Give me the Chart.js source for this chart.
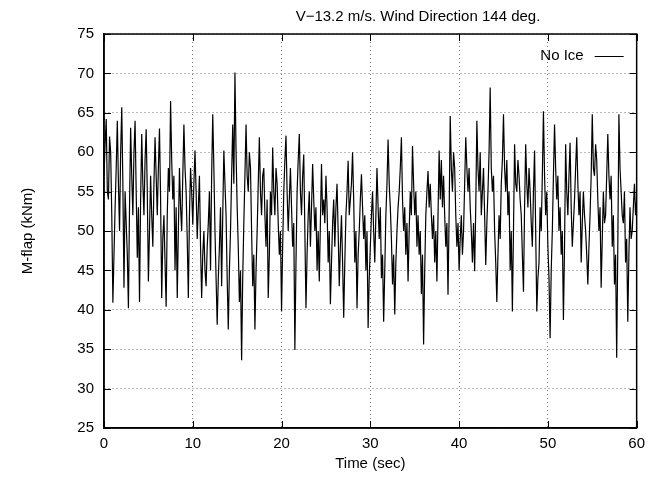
<!DOCTYPE html>
<html>
<head>
<meta charset="utf-8">
<script src="https://cdn.jsdelivr.net/npm/chart.js@4/dist/chart.umd.min.js"></script>
<style>
  html, body { margin: 0; padding: 0; background: #fff; }
</style>
</head>
<body>
<canvas id="chartFlap" width="652" height="477"></canvas>
<script>
const chartTitle = "V\u221213.2 m/s. Wind Direction 144 deg.";
const seriesLabel = "No Ice";
const xTitle = "Time (sec)";
const yTitle = "M-flap (kNm)";
const xTicks = [0, 10, 20, 30, 40, 50, 60];
const yTicks = [25, 30, 35, 40, 45, 50, 55, 60, 65, 70, 75];

// one sample every 0.125 s (one row = one second)
const sampleStep = 0.125;
const mFlap = [
    57, 61, 64.2, 55, 54, 62, 60, 52,
    40.9, 47, 53, 58, 64, 56, 50, 60,
    65.7, 56, 42.8, 55, 51, 47, 40.2, 53,
    63.1, 57, 52, 60, 64, 55, 46.6, 53,
    41, 54, 62.3, 56, 52, 59, 62.9, 55,
    43.6, 50, 57, 52, 48, 56, 61.9, 57,
    52, 58, 63, 54, 41.5, 49, 52, 46,
    40.4, 52, 58, 55, 66.5, 59, 54, 57,
    45, 53, 41.5, 50, 58, 53, 50, 57,
    63.5, 58, 55, 49, 41.5, 52, 58, 55,
    50.8, 56, 60.2, 55, 49, 53, 57, 48,
    41.5, 47, 50, 45, 43, 48, 51, 55,
    45, 57, 64.8, 58, 50, 44, 38.1, 44,
    48, 53, 43, 52, 60.2, 56, 52, 44,
    37.5, 45, 50, 57, 63.5, 56, 70.1, 60,
    53, 48, 41, 45, 33.6, 44, 51, 57,
    63.5, 57, 55, 60, 58, 50, 43, 47,
    37.5, 45, 50, 56, 61.9, 55, 52, 57,
    58, 52, 48, 54, 41.5, 47, 55, 52,
    60.6, 55, 52, 58, 56, 51, 47, 50,
    39.8, 48, 55, 59, 62.1, 55, 50, 54,
    58, 53, 48, 51, 34.9, 46, 55, 59,
    62.3, 55, 52, 57, 59.7, 50, 40.2, 47,
    52, 55, 48, 53, 58.5, 54, 50, 53,
    45, 50, 43.6, 51, 58.5, 52, 54, 51,
    57, 53, 46, 50, 40.7, 46, 51, 54,
    48, 53, 56, 50, 43, 48, 52, 46,
    39, 46, 52, 55, 58.9, 52, 54, 56,
    60, 54, 46, 50, 40.2, 47, 50, 54,
    57.2, 53, 49, 52, 45, 50, 37.7, 44,
    48, 52, 55, 50, 46, 52, 58, 53,
    49, 53, 44, 47, 38.5, 45, 52, 56,
    61.6, 56, 53, 49, 43.2, 47, 39.4, 46,
    50, 53, 55, 58, 61.9, 54, 50, 53,
    47, 51, 43.6, 50, 55, 52, 60.8, 56,
    52, 55, 48, 52, 47, 50, 42, 47,
    35.6, 45, 52, 55, 57.6, 53, 56, 52,
    49, 52, 46, 50, 43.6, 52, 60.2, 54,
    59, 53, 57, 52, 48, 51, 41.9, 52,
    64.6, 58, 55, 60, 58, 52, 48, 51,
    45, 49, 52, 47, 50, 56, 61.9, 58,
    55, 58, 53, 50, 46, 51, 44.9, 53,
    64, 58, 55, 60, 52, 55, 58, 52,
    45.7, 51, 55, 60, 68.2, 58, 55, 57,
    50, 46, 41, 47, 52, 49, 56, 59,
    64.8, 58, 55, 59, 52, 55, 45, 50,
    39.8, 50, 61, 56, 55, 59, 57, 54,
    52, 47, 42.3, 53, 61, 56, 53, 58,
    55, 51, 48, 55, 60.2, 50, 39.8, 44,
    46, 53, 50, 57, 65.2, 57, 52, 55,
    48, 44, 36.4, 45, 50, 57, 63.5, 58,
    54, 57, 50, 53, 47, 50, 38.7, 48,
    61, 55, 52, 57, 61.2, 53, 48, 51,
    54, 58, 61.9, 56, 52, 55, 46, 51,
    55, 52, 50, 47, 43.2, 48, 52, 57,
    64.8, 58, 57, 61, 59, 54, 50, 53,
    42.8, 49, 55, 51, 52, 57, 62.3, 57,
    54, 57, 48, 52, 43.2, 47, 33.9, 48,
    64.8, 58, 55, 52, 51, 55, 46, 49,
    38.5, 47, 53, 49, 50, 53, 56, 52,
    54
];

const fontName = '"Liberation Sans", Arial, sans-serif';

// frame, inward ticks, title and key drawn gnuplot-style
const gnuplotFrame = {
    id: "gnuplotFrame",
    afterDraw(chart) {
        const { ctx, chartArea: a, scales: { x, y } } = chart;
        ctx.save();
        ctx.strokeStyle = "#000";
        ctx.lineWidth = 1.5;
        ctx.strokeRect(a.left, a.top, a.right - a.left, a.bottom - a.top);

        ctx.lineWidth = 1;
        ctx.beginPath();
        xTicks.forEach(v => {
            const px = Math.round(x.getPixelForValue(v)) + 0.5;
            ctx.moveTo(px, a.bottom); ctx.lineTo(px, a.bottom - 7);
            ctx.moveTo(px, a.top); ctx.lineTo(px, a.top + 7);
        });
        yTicks.forEach(v => {
            const py = Math.round(y.getPixelForValue(v)) + 0.5;
            ctx.moveTo(a.left, py); ctx.lineTo(a.left + 7, py);
            ctx.moveTo(a.right, py); ctx.lineTo(a.right - 7, py);
        });
        ctx.stroke();

        ctx.fillStyle = "#000";
        ctx.font = "15px " + fontName;
        ctx.textBaseline = "middle";
        ctx.textAlign = "center";
        ctx.fillText(chartTitle, 418, 17);

        // key
        ctx.textAlign = "right";
        ctx.fillText(seriesLabel, a.right - 53, a.top + 22);
        ctx.beginPath();
        ctx.moveTo(a.right - 42, a.top + 22.5);
        ctx.lineTo(a.right - 13, a.top + 22.5);
        ctx.stroke();
        ctx.restore();
    }
};

new Chart(document.getElementById("chartFlap"), {
    type: "line",
    data: {
        datasets: [{
            label: seriesLabel,
            data: mFlap.map((v, i) => ({ x: i * sampleStep, y: v })),
            borderColor: "#000",
            borderWidth: 1.2,
            pointRadius: 0,
            tension: 0,
            fill: false
        }]
    },
    options: {
        responsive: false,
        animation: false,
        devicePixelRatio: 1,
        layout: { padding: { left: 19, right: 12, top: 34, bottom: 4 } },
        plugins: {
            legend: { display: false },
            title: { display: false },
            tooltip: { enabled: false }
        },
        scales: {
            x: {
                type: "linear",
                min: 0,
                max: 60,
                afterBuildTicks: s => { s.ticks = xTicks.map(v => ({ value: v })); },
                afterFit: s => { s.height = 45; },
                ticks: { color: "#000", font: { family: fontName, size: 15 }, padding: 7, maxRotation: 0 },
                grid: { color: "#777", lineWidth: 1, drawTicks: false },
                border: { display: true, color: "#000", width: 1.5, dash: [1, 3] },
                title: { display: true, text: xTitle, color: "#000", font: { family: fontName, size: 15 }, padding: { top: 0, bottom: 0 } }
            },
            y: {
                min: 25,
                max: 75,
                afterBuildTicks: s => { s.ticks = yTicks.map(v => ({ value: v })); },
                afterFit: s => { s.width = 85; },
                ticks: { color: "#000", font: { family: fontName, size: 15 }, padding: 10 },
                grid: { color: "#777", lineWidth: 1, drawTicks: false },
                border: { display: true, color: "#000", width: 1.5, dash: [1, 3] },
                title: { display: true, text: yTitle, color: "#000", font: { family: fontName, size: 15 }, padding: { top: 0, bottom: 0 } }
            }
        }
    },
    plugins: [gnuplotFrame]
});
</script>
</body>
</html>
